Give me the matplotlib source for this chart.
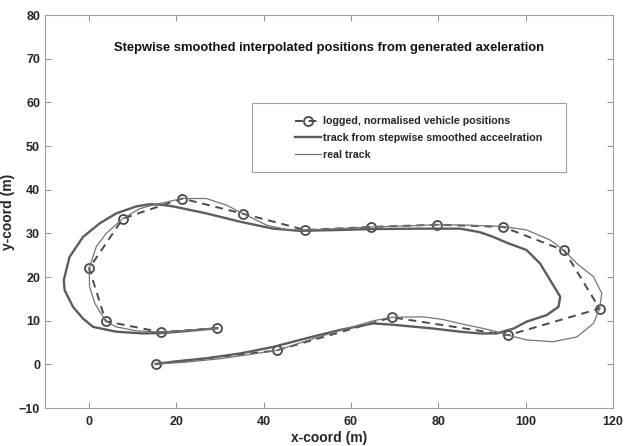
import matplotlib
matplotlib.use("Agg")
import matplotlib.pyplot as plt
from matplotlib.patches import Rectangle

plt.rcParams['font.family'] = ['Liberation Sans', 'DejaVu Sans']

# logged, normalised vehicle positions
logged_x = [15.3, 43.0, 69.4, 96.0, 116.9, 108.8, 94.8, 79.8, 64.7, 49.5, 35.4, 21.4, 7.8, 0.1, 3.9, 16.5, 29.4]
logged_y = [0.1, 3.2, 10.8, 6.7, 12.8, 26.1, 31.5, 32.0, 31.5, 30.8, 34.5, 38.0, 33.4, 22.0, 9.9, 7.4, 8.3]

# track from stepwise smoothed acceleration
smooth_x = [15.3, 20.0, 26.9, 34.6, 42.2, 49.8, 57.5, 65.1, 69.5, 78.1, 85.0, 89.5, 93.3, 97.2, 100.2,
            104.8, 107.5, 107.9, 105.6, 103.3, 100.2, 95.6, 92.6, 89.5, 85.0, 75.0, 64.3, 57.5, 48.3,
            42.2, 34.6, 26.9, 19.3, 16.3, 14.0, 10.9, 6.3, 2.5, -1.3, -4.4, -5.7, -5.5, -3.6, -1.3,
            1.0, 6.3, 12.4, 17.0, 23.0, 29.4]
smooth_y = [0.1, 0.7, 1.4, 2.5, 4.0, 6.0, 7.9, 9.4, 9.1, 8.3, 7.5, 7.1, 7.1, 8.2, 9.8,
            11.3, 13.2, 15.5, 19.3, 23.1, 26.2, 27.9, 29.2, 30.3, 31.1, 31.1, 31.0, 30.8, 30.6,
            31.1, 32.7, 34.6, 36.2, 36.6, 36.7, 36.2, 34.6, 32.3, 29.2, 24.6, 19.3, 17.0, 13.2, 10.5,
            8.6, 7.5, 7.1, 7.2, 7.7, 8.3]

# real track
real_x = [15.3, 22.0, 30.0, 37.0, 43.0, 49.8, 55.0, 59.0, 65.1, 69.4, 76.6, 81.0, 85.7, 90.0, 93.0,
          96.0, 100.2, 106.3, 111.7, 115.5, 116.9, 117.4, 115.5, 111.7, 108.8, 105.6, 100.2, 94.8,
          87.0, 79.8, 72.0, 64.7, 57.0, 49.5, 45.2, 40.7, 35.4, 31.5, 26.9, 21.4, 15.5, 11.7, 7.8,
          4.0, 1.7, 0.1, 0.2, 1.4, 3.9, 6.3, 10.9, 16.5, 23.0, 29.4]
real_y = [0.1, 0.5, 1.3, 2.3, 3.2, 5.4, 7.0, 8.2, 10.0, 10.8, 10.9, 10.3, 9.2, 8.3, 7.6,
          6.7, 5.6, 5.2, 6.3, 9.4, 12.8, 16.3, 20.1, 23.1, 26.1, 28.5, 30.8, 31.6,
          31.9, 32.0, 31.7, 31.5, 31.1, 30.8, 30.9, 31.9, 34.5, 36.5, 38.0, 38.0, 36.7, 35.7, 33.4,
          30.0, 26.9, 22.0, 17.8, 14.0, 9.9, 8.6, 7.7, 7.4, 7.8, 8.3]

labels = ['logged, normalised vehicle positions',
          'track from stepwise smoothed acceelration',
          'real track']
title = 'Stepwise smoothed interpolated positions from generated axeleration'

fig = plt.figure(figsize=(6.25, 4.46), dpi=100)
ax = fig.add_axes([0.072, 0.085, 0.909, 0.881])

h1, = ax.plot(logged_x, logged_y, linestyle=(0, (4, 3)), color='#4a4a4a', linewidth=1.4,
              marker='o', markersize=6.5, markerfacecolor='none', markeredgecolor='#4a4a4a',
              markeredgewidth=1.3)
h2, = ax.plot(smooth_x, smooth_y, color='#5c5c5c', linewidth=1.7)
h3, = ax.plot(real_x, real_y, color='#757575', linewidth=0.9)

ax.set_xlim(-10, 120)
ax.set_ylim(-10, 80)
ax.set_xticks(range(0, 121, 20))
ax.set_yticks(range(-10, 81, 10))
ax.tick_params(direction='in', top=True, right=True, length=4, width=0.7, color='#909090',
               labelsize=9, labelcolor='#262626')
ax.tick_params(axis='y', pad=3.5)
ax.tick_params(axis='x', pad=6)
for lab in ax.get_xticklabels() + ax.get_yticklabels():
    lab.set_fontweight('bold')
for s in ax.spines.values():
    s.set_color('#a0a0a0')
    s.set_linewidth(0.8)

ax.set_xlabel('x-coord (m)', fontsize=10, fontweight='bold', color='#262626', labelpad=2)
ax.set_ylabel('y-coord (m)', fontsize=10, fontweight='bold', color='#262626', labelpad=3)

ax.text(0.5, 0.917, title, transform=ax.transAxes, ha='center', va='center',
        fontsize=9.4, fontweight='bold', color='#111111')

# legend box
ax.add_patch(Rectangle((0.364, 0.600), 0.553, 0.176, transform=ax.transAxes,
                       facecolor='white', edgecolor='#a0a0a0', linewidth=0.8, zorder=4))
leg = ax.legend([h1, h2, h3], labels, loc='upper left', bbox_to_anchor=(0.432, 0.753),
                frameon=False, prop={'size': 7.7, 'weight': 'bold'}, handlelength=2.5,
                handletextpad=0.1, labelspacing=0.62, borderaxespad=0)
leg.set_zorder(5)
for t in leg.get_texts():
    t.set_color('#262626')

fig.savefig('out.png', dpi=100)
